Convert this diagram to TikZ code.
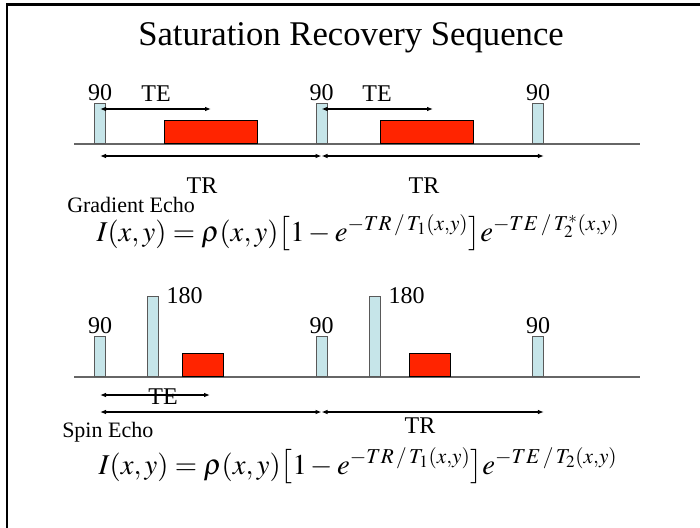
\documentclass[tikz,border=0pt]{standalone}
\usepackage{mathptmx}
\usepackage{fontspec}
\setmainfont{Liberation Serif}
\usetikzlibrary{arrows.meta, positioning}
\definecolor{pulsecol}{HTML}{C6E5E9}
\definecolor{echored}{HTML}{FF2400}

\begin{document}
\begin{tikzpicture}[x=0.75pt, y=-0.75pt, font=\fontsize{18}{20}\selectfont,
  pulse/.style={draw=black!65, fill=pulsecol, minimum width=8.5pt, inner sep=0pt, anchor=south},
  echo/.style={draw=black, fill=echored, inner sep=0pt, anchor=south west, minimum height=17.5pt},
  axis/.style={draw=black!60, line width=0.8pt},
  span/.style={{Latex[length=4.5pt,width=3.5pt]}-{Latex[length=4.5pt,width=3.5pt]}, line width=0.9pt},
  lbl/.style={inner sep=0pt},
  eqn/.style={font=\fontsize{21.5}{26}\selectfont}]
  \useasboundingbox (0,0) rectangle (700,528);
  \draw[line width=1.6pt] (7,528) -- (7,4.5) -- (700,4.5);
  \node[lbl, font=\fontsize{26}{30}\selectfont] (title) at (351,38) {Saturation Recovery Sequence};

  % gradient echo train
  \coordinate (ga) at (74,144);
  \coordinate (gb) at (640,144);
  \draw[axis] (ga) -- (gb);
  \node[pulse, minimum height=30.5pt] (g1) at (100,144) {};
  \node[pulse, minimum height=30.5pt] (g2) at (321.5,144) {};
  \node[pulse, minimum height=30.5pt] (g3) at (538,144) {};
  \node[echo, minimum width=70pt] (ge1) at (164,144) {};
  \node[echo, minimum width=70pt] (ge2) at (380,144) {};
  \node[lbl, above=1.5pt of g1] {90};
  \node[lbl, above=1.5pt of g2] {90};
  \node[lbl, above=1.5pt of g3] {90};
  \coordinate (gte1) at (211,109);
  \coordinate (gte2) at (433,109);
  \draw[span] (g1 |- gte1) -- (gte1);
  \draw[span] (g2 |- gte2) -- (gte2);
  \node[lbl] (gtel1) at (156,94) {TE};
  \node[lbl] (gtel2) at (377,94) {TE};
  \coordinate (gtr) at (0,156);
  \draw[span] (g1 |- gtr) -- (g2 |- gtr);
  \draw[span] (g2 |- gtr) -- (g3.east |- gtr);
  \node[lbl] (gtrl1) at (202,186) {TR};
  \node[lbl] (gtrl2) at (424,186) {TR};
  \node[lbl, anchor=west, font=\fontsize{16.5}{18}\selectfont] (gname) at (67,205) {Gradient Echo};
  \node[eqn] (eq1) at (358,233)
    {$I(x,y) = \rho(x,y)\bigl[1 - e^{-TR\,/\,T_1(x,y)}\bigr]e^{-TE\,/\,T_2^*(x,y)}$};

  % spin echo train
  \coordinate (sa) at (74,377);
  \coordinate (sb) at (640,377);
  \draw[axis] (sa) -- (sb);
  \node[pulse, minimum height=30pt] (s1) at (100,377) {};
  \node[pulse, minimum height=60.5pt] (s2) at (152.5,377) {};
  \node[pulse, minimum height=30pt] (s3) at (321.5,377) {};
  \node[pulse, minimum height=60.5pt] (s4) at (374.5,377) {};
  \node[pulse, minimum height=30pt] (s5) at (538,377) {};
  \node[echo, minimum width=30.5pt] (se1) at (182,377) {};
  \node[echo, minimum width=30.5pt] (se2) at (409,377) {};
  \node[lbl, above=1.5pt of s1] {90};
  \node[lbl, above=1.5pt of s3] {90};
  \node[lbl, above=1.5pt of s5] {90};
  \node[lbl, anchor=west, right=6pt of s2.north east] {180};
  \node[lbl, anchor=west, right=6pt of s4.north east] {180};
  \coordinate (ste) at (210,395);
  \draw[span] (s1 |- ste) -- (ste);
  \node[lbl] (stel) at (163,397) {TE};
  \coordinate (str) at (0,412);
  \draw[span] (s1 |- str) -- (s3 |- str);
  \draw[span] (s3 |- str) -- (s5.east |- str);
  \node[lbl] (strl) at (420,426) {TR};
  \node[lbl, anchor=west, font=\fontsize{16.5}{18}\selectfont] (sname) at (62,432) {Spin Echo};
  \node[eqn] (eq2) at (358,466)
    {$I(x,y) = \rho(x,y)\bigl[1 - e^{-TR\,/\,T_1(x,y)}\bigr]e^{-TE\,/\,T_2(x,y)}$};
\end{tikzpicture}
\end{document}
